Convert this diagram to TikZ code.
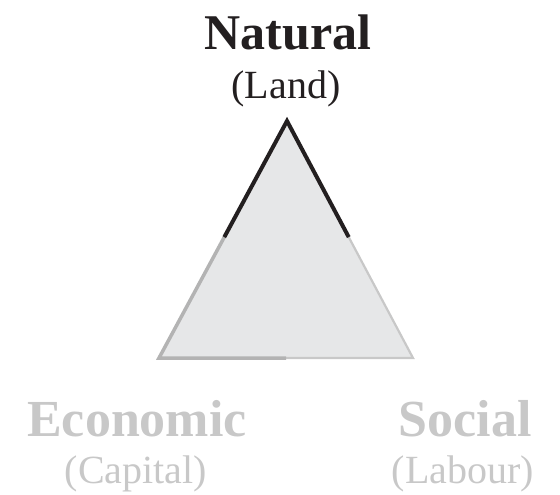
\documentclass[tikz,border=0pt]{standalone}
\usepackage{fontspec}
\setmainfont{Liberation Serif}
\usetikzlibrary{calc}
\definecolor{fillgray}{HTML}{E6E7E8}
\definecolor{edgegray}{HTML}{B3B3B3}
\definecolor{lightedge}{HTML}{C8C8C8}
\definecolor{textgray}{HTML}{C8C8C8}
\definecolor{darktext}{HTML}{231F20}
\tikzset{
  titletext/.style={font=\fontsize{50}{50}\selectfont\bfseries, anchor=base, inner sep=0pt},
  bigtitle/.style={font=\fontsize{52}{52}\selectfont\bfseries, anchor=base, inner sep=0pt},
  subtext/.style={font=\fontsize{40}{40}\selectfont, anchor=base, inner sep=0pt},
  strongedge/.style={draw=darktext, line width=4pt, line cap=butt, line join=miter},
  leftedge/.style={draw=edgegray, line width=3.5pt, line cap=butt},
  rightedge/.style={draw=lightedge, line width=2.2pt, line cap=butt},
}
\begin{document}
\begin{tikzpicture}[x=1pt,y=-1pt]
\useasboundingbox (0,0) rectangle (560,495);
\coordinate (top) at (287,121);
\coordinate (left) at (159,358);
\coordinate (right) at (413,358);
\coordinate (lmid) at ($(top)!0.49!(left)$);
\coordinate (rmid) at ($(top)!0.49!(right)$);
\coordinate (bmid) at ($(left)!0.5!(right)$);
\fill[fillgray] (top) -- (left) -- (right) -- cycle;
\draw[rightedge] (rmid) -- (right) -- (bmid);
\draw[leftedge] (lmid) -- (left) -- (bmid);
\draw[strongedge] (lmid) -- (top) -- (rmid);
\node[titletext, text=darktext] (nat) at (288,50) {Natural};
\node[subtext, text=darktext] (land) at (286,99) {(Land)};
\node[bigtitle, text=textgray] (eco) at (137,436) {Economic};
\node[subtext, text=textgray] (cap) at (136,483) {(Capital)};
\node[bigtitle, text=textgray] (soc) at (465,436) {Social};
\node[subtext, text=textgray] (lab) at (463,483) {(Labour)};
\end{tikzpicture}
\end{document}
